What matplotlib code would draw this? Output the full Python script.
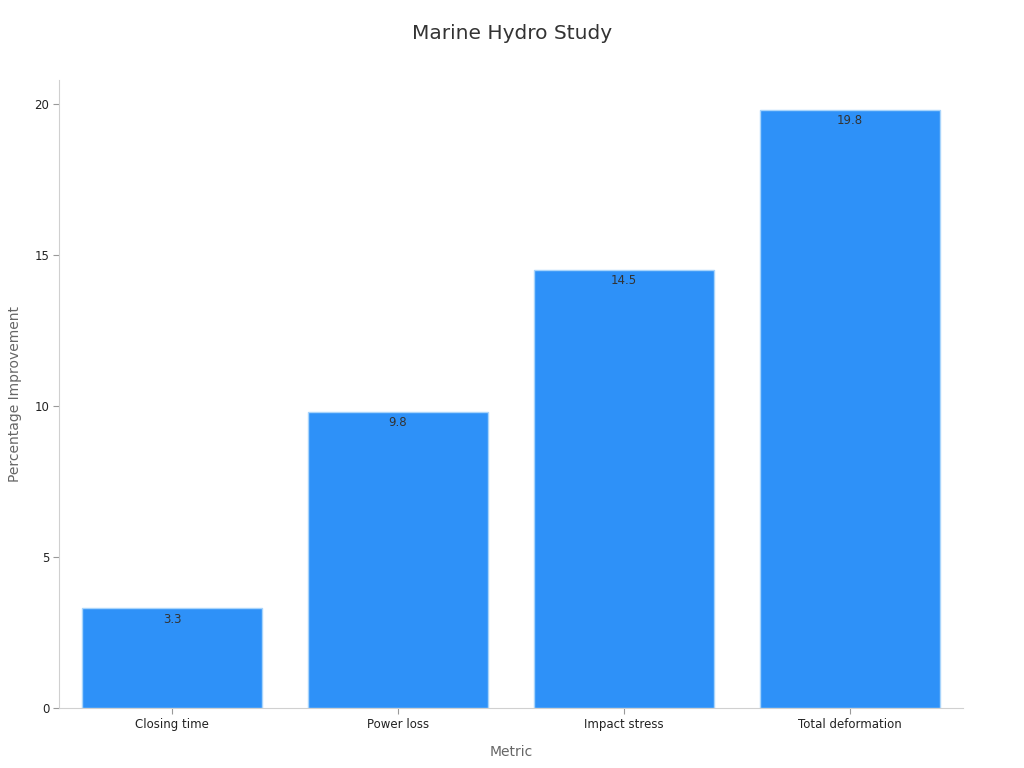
import numpy as np
import matplotlib
matplotlib.use("Agg")
import matplotlib.pyplot as plt

# Data
metrics = ["Closing time", "Power loss", "Impact stress", "Total deformation"]
improvement = [3.3, 9.8, 14.5, 19.8]

plt.rcParams['font.family'] = ['DejaVu Sans']

fig = plt.figure(figsize=(10.24, 7.68), dpi=100)
ax = fig.add_axes([0.0576, 0.078, 0.8828, 0.8178])

x = np.arange(len(metrics))
bars = ax.bar(x, improvement, width=0.8, color='#2e91f8', edgecolor='#a8d4fb', linewidth=1)

# value labels just inside the top of each bar
for b, v in zip(bars, improvement):
    ax.annotate(str(v), (b.get_x() + b.get_width() / 2, v), xytext=(0, -3),
                textcoords='offset points', ha='center', va='top',
                fontsize=8.5, color='#333333')

ax.set_xlim(-0.5, len(metrics) - 0.5)
ax.set_ylim(0, max(improvement) * 1.05)
ax.set_xticks(x)
ax.set_xticklabels(metrics)
ax.set_yticks([0, 5, 10, 15, 20])

ax.tick_params(axis='both', labelsize=8.5, labelcolor='#222222', length=4, pad=3, color='#999999')

for s in ['top', 'right']:
    ax.spines[s].set_visible(False)
for s in ['left', 'bottom']:
    ax.spines[s].set_color('#d0d0d0')

ax.set_xlabel('Metric', fontsize=10, color='#666666', labelpad=10)
ax.set_ylabel('Percentage Improvement', fontsize=10, color='#666666', labelpad=9)

fig.text(0.5, 0.957, 'Marine Hydro Study', ha='center', va='center',
         fontsize=14.5, color='#333333')

fig.savefig('out.png', dpi=100)
